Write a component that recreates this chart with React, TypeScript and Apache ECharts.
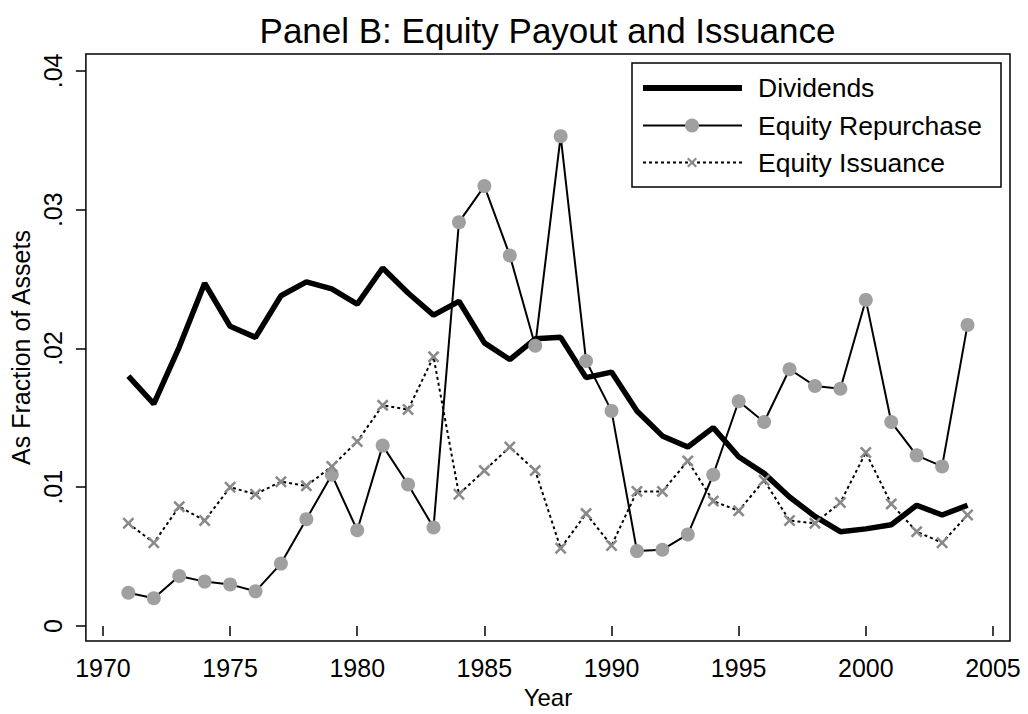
import React, { useEffect, useRef } from "react";
import * as echarts from "echarts";

const years = [1971, 1972, 1973, 1974, 1975, 1976, 1977, 1978, 1979, 1980, 1981, 1982, 1983, 1984, 1985, 1986, 1987, 1988, 1989, 1990, 1991, 1992, 1993, 1994, 1995, 1996, 1997, 1998, 1999, 2000, 2001, 2002, 2003, 2004];

const dividends = [0.0180, 0.0160, 0.0201, 0.0247, 0.0216, 0.0208, 0.0238, 0.0248, 0.0243, 0.0232,
  0.0258, 0.0240, 0.0224, 0.0234, 0.0204, 0.0192, 0.0207, 0.0208, 0.0179, 0.0183,
  0.0155, 0.0137, 0.0129, 0.0143, 0.0122, 0.0110, 0.0093, 0.0079, 0.0068, 0.0070,
  0.0073, 0.0087, 0.0080, 0.0087];

const repurchase = [0.0024, 0.0020, 0.0036, 0.0032, 0.0030, 0.0025, 0.0045, 0.0077, 0.0109, 0.0069,
  0.0130, 0.0102, 0.0071, 0.0291, 0.0317, 0.0267, 0.0202, 0.0353, 0.0191, 0.0155,
  0.0054, 0.0055, 0.0066, 0.0109, 0.0162, 0.0147, 0.0185, 0.0173, 0.0171, 0.0235,
  0.0147, 0.0123, 0.0115, 0.0217];

const issuance = [0.0074, 0.0060, 0.0086, 0.0076, 0.0100, 0.0095, 0.0104, 0.0101, 0.0115, 0.0133,
  0.0159, 0.0156, 0.0194, 0.0095, 0.0112, 0.0129, 0.0112, 0.0056, 0.0081, 0.0058,
  0.0097, 0.0097, 0.0119, 0.0090, 0.0083, 0.0105, 0.0076, 0.0074, 0.0089, 0.0125,
  0.0088, 0.0068, 0.0060, 0.0080];

const xTicks = [1970, 1975, 1980, 1985, 1990, 1995, 2000, 2005];
const yTicks = [0, 0.01, 0.02, 0.03, 0.04];

const seriesNames = ["Dividends", "Equity Repurchase", "Equity Issuance"];
const titleText = "Panel B: Equity Payout and Issuance";
const xName = "Year";
const yName = "As Fraction of Assets";

const FONT = "'Liberation Sans', Arial, Helvetica, sans-serif";
const XPATH = "path://M0,1.5L1.5,0L5,3.5L8.5,0L10,1.5L6.5,5L10,8.5L8.5,10L5,6.5L1.5,10L0,8.5L3.5,5Z";
const MARKER_GRAY = "#a0a0a0";
const X_GRAY = "#8a8a8a";

const fmtY = (v: number) => (v === 0 ? "0" : String(+v.toFixed(2)).replace(/^0/, ""));

export default function App() {
  const ref = useRef<HTMLDivElement>(null);
  useEffect(() => {
    if (!ref.current) return;
    const chart = echarts.init(ref.current, undefined, { renderer: "svg" });
    const zip = (arr: number[]) => years.map((y, i) => [y, arr[i]]);

    const lgX0 = 643, lgX1 = 742, lgMid = 692, lgTextX = 758;
    const rows = [88, 125.5, 162.5];

    chart.setOption({
      animation: false,
      backgroundColor: "#fff",
      textStyle: { fontFamily: FONT },
      grid: {
        left: 85, top: 54, width: 925, height: 589,
        show: true, borderColor: "#000", borderWidth: 1.5, backgroundColor: "transparent",
      },
      xAxis: {
        type: "value",
        min: 1969.33, max: 2005.67,
        name: xName, nameLocation: "middle", nameGap: 44,
        nameTextStyle: { fontSize: 24, color: "#000", fontFamily: FONT },
        axisLine: { show: false },
        splitLine: { show: false },
        axisTick: { show: true, length: 10, inside: false, lineStyle: { color: "#000", width: 1.5 }, customValues: xTicks },
        axisLabel: { fontSize: 25, color: "#000", margin: 14, fontFamily: FONT, customValues: xTicks, formatter: (v: number) => String(v) },
      },
      yAxis: {
        type: "value",
        min: -0.00108, max: 0.04122,
        name: yName, nameLocation: "middle", nameGap: 50, nameRotate: 90,
        nameTextStyle: { fontSize: 25, color: "#000", fontFamily: FONT },
        axisLine: { show: false },
        splitLine: { show: false },
        axisTick: { show: true, length: 10, inside: false, lineStyle: { color: "#000", width: 1.5 }, customValues: yTicks },
        axisLabel: { fontSize: 25, color: "#000", margin: 20, rotate: 90, fontFamily: FONT, customValues: yTicks, formatter: fmtY },
      },
      series: [
        {
          name: seriesNames[0], type: "line", data: zip(dividends), symbol: "none",
          lineStyle: { color: "#000", width: 5.5 }, z: 3,
        },
        {
          name: seriesNames[1], type: "line", data: zip(repurchase), symbol: "circle", symbolSize: 14,
          itemStyle: { color: MARKER_GRAY, borderWidth: 0 },
          lineStyle: { color: "#000", width: 2 }, z: 4,
        },
        {
          name: seriesNames[2], type: "line", data: zip(issuance), symbol: XPATH, symbolSize: 12,
          itemStyle: { color: X_GRAY, borderWidth: 0 },
          lineStyle: { color: "#000", width: 2, type: [3, 3] }, z: 5,
        },
      ],
      graphic: [
        {
          type: "text", x: 547.5, y: 30, z: 10,
          style: { text: titleText, fontSize: 35, fontFamily: FONT, fill: "#000", align: "center", verticalAlign: "middle" },
        },
        {
          type: "rect", shape: { x: 632, y: 63, width: 369, height: 124 }, z: 20,
          style: { fill: "#fff", stroke: "#000", lineWidth: 1.5 },
        },
        { type: "line", z: 21, shape: { x1: lgX0, y1: rows[0], x2: lgX1, y2: rows[0] }, style: { stroke: "#000", lineWidth: 6 } },
        { type: "line", z: 21, shape: { x1: lgX0, y1: rows[1], x2: lgX1, y2: rows[1] }, style: { stroke: "#000", lineWidth: 2 } },
        { type: "circle", z: 22, shape: { cx: lgMid, cy: rows[1], r: 7 }, style: { fill: MARKER_GRAY } },
        { type: "line", z: 21, shape: { x1: lgX0, y1: rows[2], x2: lgX1, y2: rows[2] }, style: { stroke: "#000", lineWidth: 2, lineDash: [3, 3] } },
        {
          type: "polygon", z: 22,
          shape: { points: [[0, 1.5], [1.5, 0], [5, 3.5], [8.5, 0], [10, 1.5], [6.5, 5], [10, 8.5], [8.5, 10], [5, 6.5], [1.5, 10], [0, 8.5], [3.5, 5]].map(([px, py]) => [lgMid - 5 + px, rows[2] - 5 + py]) },
          style: { fill: X_GRAY },
        },
        ...seriesNames.map((n, i) => ({
          type: "text", z: 22, x: lgTextX, y: rows[i],
          style: { text: n, fontSize: 26.5, fontFamily: FONT, fill: "#000", align: "left", verticalAlign: "middle" },
        })),
      ],
    });
    return () => chart.dispose();
  }, []);
  return <div ref={ref} style={{ position: "fixed", left: 0, top: 0, width: 1028, height: 714 }} />;
}
